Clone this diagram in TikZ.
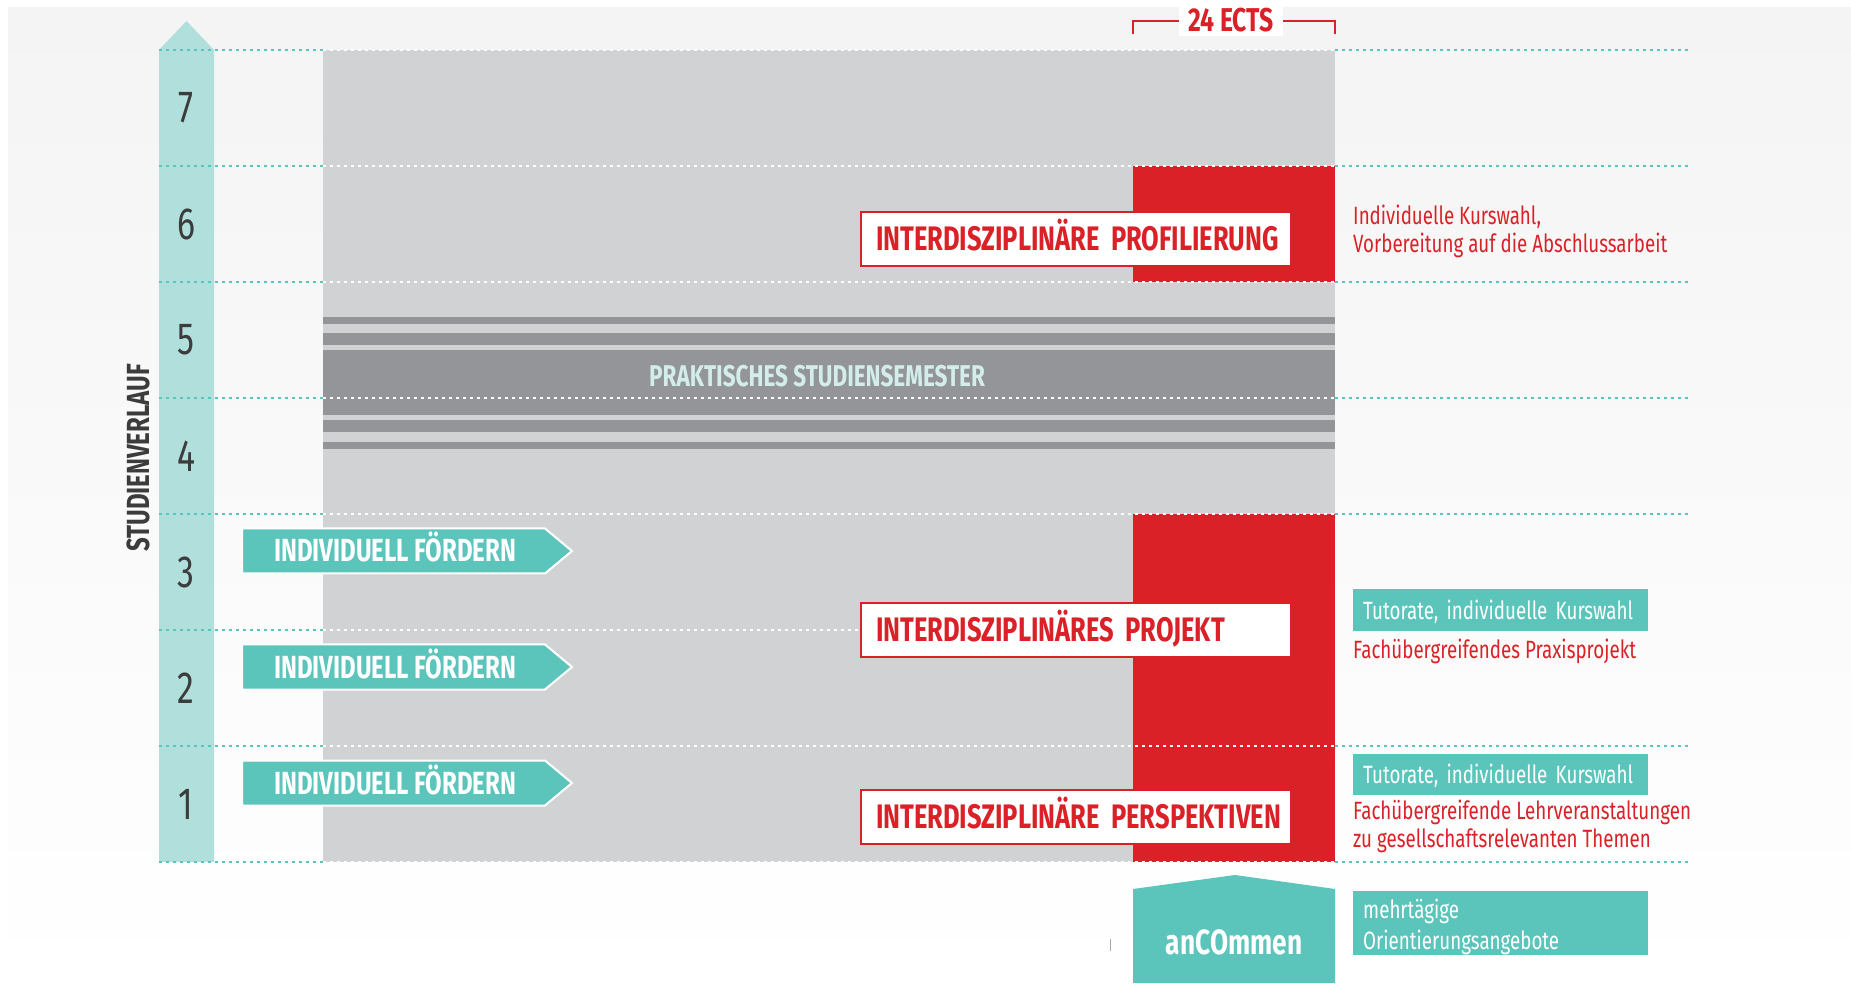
\documentclass[tikz,border=0pt]{standalone}
\usepackage{fontspec}
\setmainfont[FakeStretch=0.75]{Fira Sans}
\usetikzlibrary{positioning}

\definecolor{bgtop}{HTML}{F4F4F4}
\definecolor{paleteal}{HTML}{B1DFDB}
\definecolor{tealmid}{HTML}{5BC5BB}
\definecolor{semgray}{HTML}{D1D2D4}
\definecolor{stripegray}{HTML}{939598}
\definecolor{hsred}{HTML}{DA2128}
\definecolor{numgray}{HTML}{3C3C3C}
\definecolor{paletext}{HTML}{D3EEEA}

\tikzset{
  rowdots/.style={line width=2.5pt, dash pattern=on 3pt off 4pt},
  semnum/.style={text=numgray, font=\fontsize{45}{45}\selectfont},
  foerderpfeil/.style={fill=tealmid, draw=white, line width=2pt},
  foerdertext/.style={anchor=base west, inner sep=0pt, text=white, font=\bfseries\fontsize{32}{32}\selectfont},
  modulbox/.style={draw=hsred, line width=2.5pt, fill=white, text=hsred, text width=400pt, inner xsep=15pt,
    minimum height=54pt, text height=23pt, text depth=0pt, align=left, font=\bfseries\fontsize{34}{34}\selectfont},
  infotext/.style={anchor=west, inner sep=0pt, text=hsred, align=left, font=\fontsize{25}{28}\selectfont},
  infobox/.style={anchor=west, fill=tealmid, text=white, text width=275pt, inner xsep=10pt, align=left,
    font=\fontsize{25}{28}\selectfont},
  boxtext/.style={anchor=base west, inner sep=0pt, text=white, font=\fontsize{25}{28}\selectfont},
}

\begin{document}
\begin{tikzpicture}[x=1pt,y=1pt]
  \useasboundingbox (0,0) rectangle (1851,983);
  \fill[white] (0,0) rectangle (1851,983);
  \shade[top color=bgtop, bottom color=white] (8,0) rectangle (1851,975);

  % Studienverlauf
  \fill[paleteal] (159,121) -- (159,933) -- (186.5,962) -- (214,933) -- (214,121) -- cycle;

  % Semesterblock mit Praxissemester
  \fill[semgray] (323,121) rectangle (1335,933);
  \fill[stripegray] (323,659) rectangle (1335,666);
  \fill[stripegray] (323,638) rectangle (1335,650);
  \fill[stripegray] (323,568) rectangle (1335,633);
  \fill[stripegray] (323,551) rectangle (1335,563);
  \fill[stripegray] (323,534) rectangle (1335,541);
  \fill[hsred] (1133,701) rectangle (1335,817);
  \fill[hsred] (1133,121) rectangle (1335,469);

  % Semestergrenzen
  \draw[rowdots, tealmid] (159,121) -- (323,121) (1335,121) -- (1690,121);
  \draw[rowdots, white] (323,121) -- (1335,121);
  \draw[rowdots, tealmid] (159,237) -- (323,237) (1335,237) -- (1690,237);
  \draw[rowdots, white] (323,237) -- (1335,237);
  \draw[rowdots, tealmid] (159,353) -- (323,353);
  \draw[rowdots, white] (323,353) -- (861,353);
  \draw[rowdots, tealmid] (159,469) -- (323,469) (1335,469) -- (1690,469);
  \draw[rowdots, white] (323,469) -- (1335,469);
  \draw[rowdots, tealmid] (159,585) -- (323,585) (1335,585) -- (1690,585);
  \draw[rowdots, white] (323,585) -- (1335,585);
  \draw[rowdots, tealmid] (159,701) -- (323,701) (1335,701) -- (1690,701);
  \draw[rowdots, white] (323,701) -- (1335,701);
  \draw[rowdots, tealmid] (159,817) -- (323,817) (1335,817) -- (1690,817);
  \draw[rowdots, white] (323,817) -- (1335,817);
  \draw[rowdots, tealmid] (159,933) -- (323,933) (1335,933) -- (1690,933);
  \draw[rowdots, white] (323,933) -- (1335,933);

  \node[semnum] (s1) at (186,179) {1};
  \node[semnum] (s2) at (186,295) {2};
  \node[semnum] (s3) at (186,411) {3};
  \node[semnum] (s4) at (186,527) {4};
  \node[semnum] (s5) at (186,643) {5};
  \node[semnum] (s6) at (186,759) {6};
  \node[semnum] (s7) at (186,875) {7};
  \node[rotate=90, text=numgray, font=\bfseries\fontsize{32}{32}\selectfont] (verlauf) at (138,525) {STUDIENVERLAUF};

  \node[text=paletext, anchor=base, font=\bfseries\fontsize{30}{30}\selectfont] (praxis) at (817,596) {PRAKTISCHES STUDIENSEMESTER};

  % Individuell foerdern
  \path[foerderpfeil] (242,177.5) -- (545,177.5) -- (572,200) -- (545,222.5) -- (242,222.5) -- cycle;
  \node[foerdertext] (f1) at (274,189) {INDIVIDUELL FÖRDERN};
  \path[foerderpfeil] (242,293.5) -- (545,293.5) -- (572,316) -- (545,338.5) -- (242,338.5) -- cycle;
  \node[foerdertext] (f2) at (274,305) {INDIVIDUELL FÖRDERN};
  \path[foerderpfeil] (242,409.5) -- (545,409.5) -- (572,432) -- (545,454.5) -- (242,454.5) -- cycle;
  \node[foerdertext] (f3) at (274,421) {INDIVIDUELL FÖRDERN};

  % Module
  \node[modulbox] (profil) at (1076,744) {\mbox{INTERDISZIPLINÄRE PROFILIERUNG}};
  \node[modulbox] (projekt) at (1076,353) {\mbox{INTERDISZIPLINÄRES PROJEKT}};
  \node[modulbox] (perspektiven) at (1076,166) {\mbox{INTERDISZIPLINÄRE PERSPEKTIVEN}};

  % 24 ECTS
  \coordinate (ectsl) at (1133,949);
  \coordinate (ectsr) at (1335,949);
  \draw[hsred, line width=2.5pt] (ectsl) -- (1133,962) -- (1335,962) -- (ectsr);
  \node[fill=white, text=hsred, anchor=base, inner xsep=9pt, inner ysep=4pt, text height=22pt, text depth=0pt,
    font=\bfseries\fontsize{33}{33}\selectfont] (ects) at (1231,951) {24 ECTS};

  % anCOmmen
  \fill[tealmid] (1133,0) -- (1133,94) -- (1235,108) -- (1335,94) -- (1335,0) -- cycle;
  \node[text=white, anchor=base, font=\bfseries\fontsize{35}{35}\selectfont] (ancommen) at (1234,29) {anCOmmen};
  \draw[gray!70, line width=1pt] (1110,32) -- (1110,44);

  % Erlaeuterungen
  \node[infotext] (kurswahl) at (1353,751.5) {Individuelle Kurswahl,\\Vorbereitung auf die Abschlussarbeit};
  \node[infobox, minimum height=42pt, text height=19pt, text depth=0pt] (tut2) at (1353,373) {\mbox{Tutorate, individuelle Kurswahl}};
  \node[infotext, anchor=base west] (praxisprojekt) at (1353,324) {Fachübergreifendes Praxisprojekt};
  \node[infobox, minimum height=41pt, text height=19pt, text depth=0pt] (tut1) at (1353,209) {\mbox{Tutorate, individuelle Kurswahl}};
  \node[infotext] (lehrveranst) at (1353,156.5) {Fachübergreifende Lehrveranstaltungen\\zu gesellschaftsrelevanten Themen};
  \node[infobox, minimum height=64pt] (orient) at (1353,60) {};
  \node[boxtext] (orient1) at (1363,65) {mehrtägige};
  \node[boxtext] (orient2) at (1363,34) {Orientierungsangebote};
\end{tikzpicture}
\end{document}
